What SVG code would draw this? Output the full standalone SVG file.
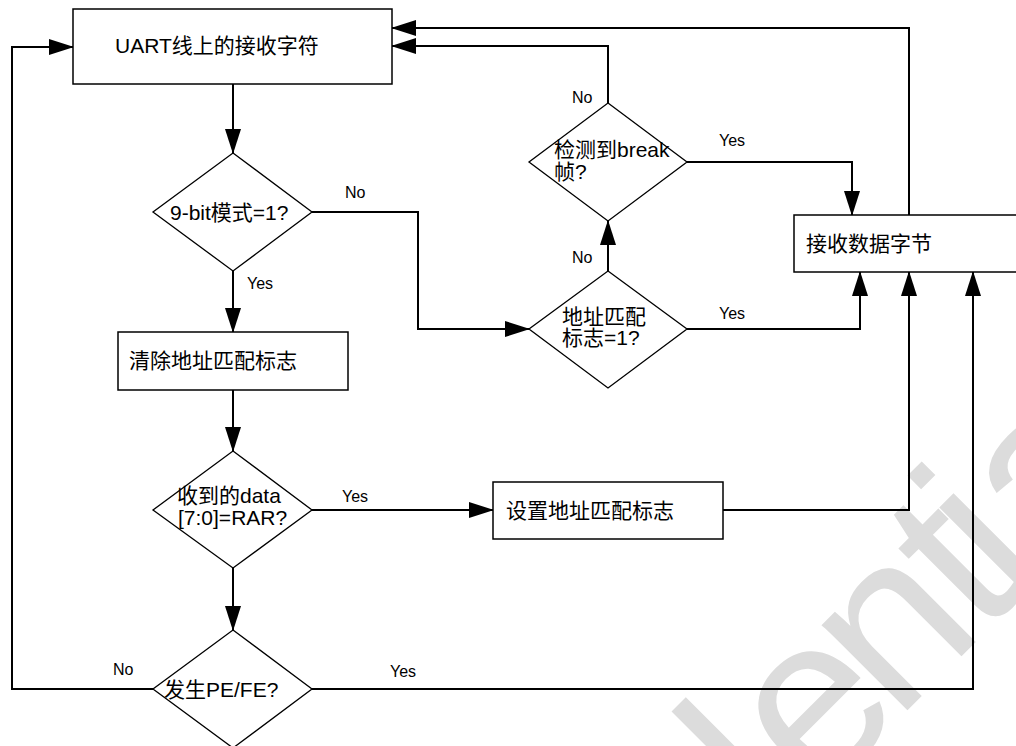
<svg xmlns="http://www.w3.org/2000/svg" width="1016" height="746" viewBox="0 0 1016 746">
<style>
.box{fill:#fff;stroke:#000;stroke-width:1.5}
.dia{fill:#fff;stroke:#000;stroke-width:1.3}
.t{font-family:"Liberation Sans","Noto Sans CJK SC",sans-serif;font-size:21px;fill:#000}
.lbl{font-family:"Liberation Sans",sans-serif;font-size:16px;fill:#000}
.conn{fill:none;stroke:#000;stroke-width:2;marker-end:url(#arr)}
.wm{font-family:"Liberation Sans",sans-serif;font-size:229px;fill:#dcdcdc}
</style>
<defs>
<marker id="arr" markerUnits="userSpaceOnUse" markerWidth="25" markerHeight="16" viewBox="0 0 25 16" refX="24" refY="8" orient="auto">
<path d="M0,0 L25,8 L0,16 z" fill="#000"/>
</marker>
</defs>
<rect width="1016" height="746" fill="#fff"/>
<g id="watermark" transform="rotate(-45)">
<text class="wm" y="1144" x="-654.6 -489.3 -362 -234.7 -171 -120 12 123.5 244 290 341 468">Confidential</text>
</g>
<g id="connectors">
<path class="conn" d="M233,84 V153"/>
<path class="conn" d="M233,271 V332"/>
<path class="conn" d="M312,212 H418 V329 H529"/>
<path class="conn" d="M233,390 V451"/>
<path class="conn" d="M312,510 H493"/>
<path class="conn" d="M233,568 V630"/>
<path class="conn" d="M153,689 H12 V47 H73"/>
<path class="conn" d="M312,689 H973 V272"/>
<path class="conn" d="M723,510 H909 V272"/>
<path class="conn" d="M687,329 H860 V272"/>
<path class="conn" d="M608,271 V221"/>
<path class="conn" d="M687,162 H852 V215"/>
<path class="conn" d="M608,103 V46 H392"/>
<path class="conn" d="M909,215 V28 H392"/>
<text class="lbl" x="345" y="197.5">No</text>
<text class="lbl" x="247" y="289">Yes</text>
<text class="lbl" x="572" y="103">No</text>
<text class="lbl" x="719" y="145.5">Yes</text>
<text class="lbl" x="572" y="263">No</text>
<text class="lbl" x="719" y="319">Yes</text>
<text class="lbl" x="342" y="501.5">Yes</text>
<text class="lbl" x="113" y="675">No</text>
<text class="lbl" x="390" y="677">Yes</text>
</g>
<g id="n_uart">
<rect class="box" x="73" y="9" width="319" height="75"/>
<text class="t" x="115" y="53">UART线上的接收字符</text>
</g>
<g id="d_9bit">
<polygon class="dia" points="233,153 312,212 233,271 153,212"/>
<text class="t" x="170" y="220">9-bit模式=1?</text>
</g>
<g id="n_clear">
<rect class="box" x="118" y="332" width="230" height="58"/>
<text class="t" x="129" y="368">清除地址匹配标志</text>
</g>
<g id="d_rar">
<polygon class="dia" points="233,451 312,510 233,568 153,510"/>
<text class="t" x="177" y="502.5">收到的data</text>
<text class="t" x="178" y="524.5">[7:0]=RAR?</text>
</g>
<g id="n_set">
<rect class="box" x="493" y="482" width="230" height="57"/>
<text class="t" x="506" y="518">设置地址匹配标志</text>
</g>
<g id="d_pefe">
<polygon class="dia" points="233,630 312,689 233,748 153,689"/>
<text class="t" x="164" y="697">发生PE/FE?</text>
</g>
<g id="d_break">
<polygon class="dia" points="608,103 687,162 608,221 529,162"/>
<text class="t" x="554" y="156.5">检测到break</text>
<text class="t" x="554" y="178.5">帧?</text>
</g>
<g id="d_addr">
<polygon class="dia" points="608,271 687,329 608,388 529,329"/>
<text class="t" x="562" y="323.5">地址匹配</text>
<text class="t" x="562" y="344.5">标志=1?</text>
</g>
<g id="n_recv">
<rect class="box" x="794" y="215" width="230" height="57"/>
<text class="t" x="806" y="251">接收数据字节</text>
</g>
</svg>
